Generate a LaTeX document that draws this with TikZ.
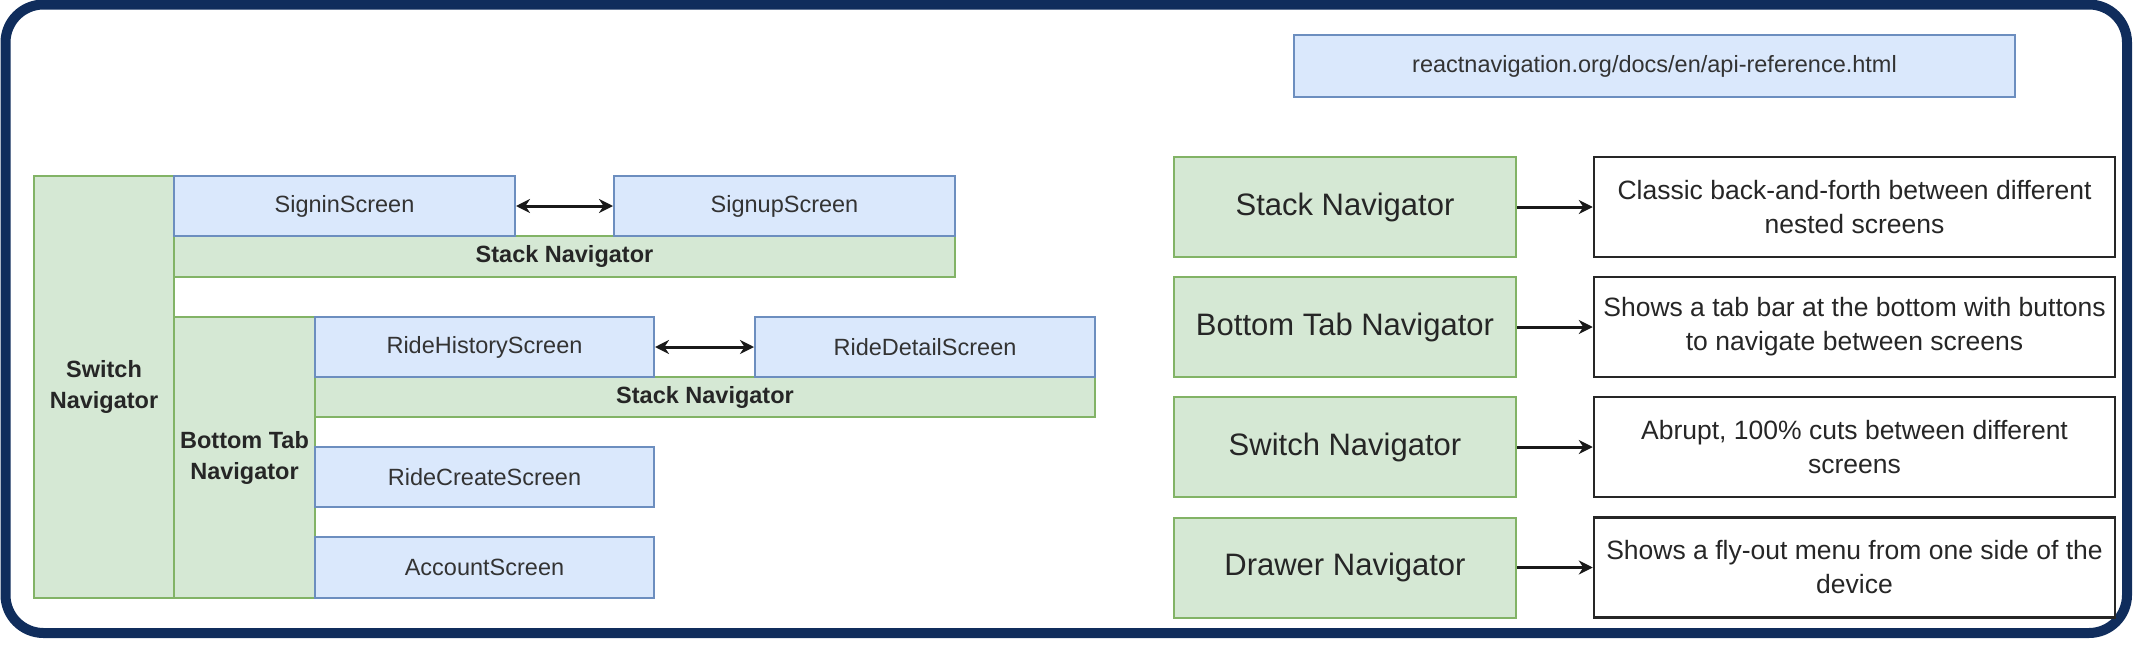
\documentclass[tikz,border=0pt]{standalone}
\usepackage{fontspec}
\setmainfont{Liberation Sans}
\usetikzlibrary{arrows.meta}

\definecolor{screenfill}{HTML}{DAE8FC}
\definecolor{screenline}{HTML}{6C8EBF}
\definecolor{navfill}{HTML}{D5E8D4}
\definecolor{navline}{HTML}{82B366}
\definecolor{framenavy}{RGB}{16,45,92}

\tikzset{
  screen/.style={draw=screenline, fill=screenfill, line width=2pt, inner sep=0pt, text=black!80, font=\fontsize{23.5}{31}\selectfont},
  navbar/.style={draw=navline, fill=navfill, line width=2pt, inner sep=0pt, align=center, text=black!85, font=\fontsize{23.5}{31}\selectfont\bfseries},
  navbig/.style={draw=navline, fill=navfill, line width=2pt, minimum width=342pt, minimum height=100pt, text=black!85, font=\fontsize{31}{36}\selectfont},
  descbox/.style={draw=black!85, line width=2.5pt, minimum width=521pt, minimum height=100pt, align=center, text=black!85, font=\fontsize{26.5}{34}\selectfont},
  tip/.tip={Stealth[length=14pt,width=14pt]},
  link/.style={line width=3pt, black!90, -tip},
  twolink/.style={line width=3pt, black!90, tip-tip},
}

\begin{document}
\begin{tikzpicture}[x=1pt, y=-1pt]
        \useasboundingbox (0,0) rectangle (2136,645);

        % Outer frame
        \draw[framenavy, line width=10pt, rounded corners=38pt] (5.5,4.5) rectangle (2127,633);

        % Switch navigator with the sign-in stack
        \node[navbar, minimum width=140pt, minimum height=422pt] (switch) at (104,387) {Switch\\Navigator};
        \node[navbar, minimum width=781pt, minimum height=41pt] (stackA) at (564.5,256.5) {Stack Navigator};
        \node[screen, minimum width=341pt, minimum height=60pt] (signin) at (344.5,206) {SigninScreen};
        \node[screen, minimum width=341pt, minimum height=60pt] (signup) at (784.5,206) {SignupScreen};
        \draw[twolink] (signin.east) -- (signup.west);

        % Bottom tab navigator and its screens
        \node[navbar, minimum width=141pt, minimum height=281pt] (bottomtab) at (244.5,457.5) {Bottom Tab\\Navigator};
        \node[navbar, minimum width=780pt, minimum height=40pt] (stackB) at (705,397) {Stack Navigator};
        \node[screen, minimum width=339pt, minimum height=60pt] (history) at (484.5,347) {RideHistoryScreen};
        \node[screen, minimum width=340pt, minimum height=60pt] (detail) at (925,347) {RideDetailScreen};
        \draw[twolink] (history.east) -- (detail.west);
        \node[screen, minimum width=339pt, minimum height=60pt] (create) at (484.5,477) {RideCreateScreen};
        \node[screen, minimum width=339pt, minimum height=61pt] (account) at (484.5,567.5) {AccountScreen};

        % Reference link
        \node[screen, minimum width=721pt, minimum height=62pt] (url) at (1654.5,66) {reactnavigation.org/docs/en/api-reference.html};

        % Navigator kinds
        \node[navbig] (kstack) at (1345,207) {Stack Navigator};
        \node[navbig] (ktab) at (1345,327) {Bottom Tab Navigator};
        \node[navbig] (kswitch) at (1345,447) {Switch Navigator};
        \node[navbig] (kdrawer) at (1345,567.5) {Drawer Navigator};

        \node[descbox] (dstack) at (1854.5,207) {Classic back-and-forth between different\\nested screens};
        \node[descbox] (dtab) at (1854.5,327) {Shows a tab bar at the bottom with buttons\\to navigate between screens};
        \node[descbox] (dswitch) at (1854.5,447) {Abrupt, 100\% cuts between different\\screens};
        \node[descbox] (ddrawer) at (1854.5,567.5) {Shows a fly-out menu from one side of the\\device};

        \draw[link] (kstack) -- (dstack);
        \draw[link] (ktab) -- (dtab);
        \draw[link] (kswitch) -- (dswitch);
        \draw[link] (kdrawer) -- (ddrawer);

\end{tikzpicture}
\end{document}
